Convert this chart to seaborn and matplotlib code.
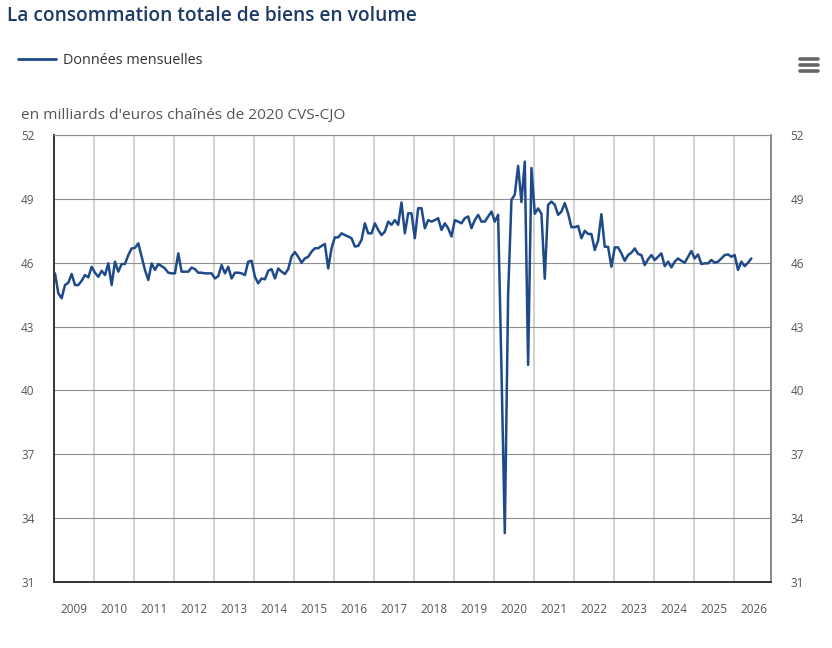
import matplotlib
matplotlib.use("Agg")
import matplotlib.pyplot as plt
import seaborn as sns
import pandas as pd
from matplotlib.lines import Line2D

# ---------------- data ----------------
title = "La consommation totale de biens en volume"
subtitle = "en milliards d'euros chaînés de 2020 CVS-CJO"
series_name = "Données mensuelles"
start_month = "2009-01"
year_labels = list(range(2009, 2027))
y_ticks = [31, 34, 37, 40, 43, 46, 49, 52]

v2009 = [45.5, 44.56, 44.33, 44.95, 45.06, 45.47, 44.95, 44.95, 45.15, 45.42, 45.31, 45.81]
v2010 = [45.53, 45.34, 45.62, 45.42, 45.97, 44.95, 46.05, 45.58, 45.94, 45.94, 46.36, 46.67]
v2011 = [46.7, 46.91, 46.28, 45.66, 45.19, 45.97, 45.66, 45.94, 45.84, 45.73, 45.53, 45.5]
v2012 = [45.5, 46.44, 45.58, 45.58, 45.58, 45.77, 45.7, 45.53, 45.53, 45.5, 45.5, 45.5]
v2013 = [45.26, 45.37, 45.89, 45.5, 45.81, 45.26, 45.53, 45.53, 45.5, 45.42, 46.05, 46.09]
v2014 = [45.34, 45.03, 45.26, 45.22, 45.62, 45.7, 45.26, 45.73, 45.58, 45.47, 45.7, 46.3]
v2015 = [46.5, 46.28, 46.0, 46.2, 46.28, 46.52, 46.68, 46.68, 46.79, 46.88, 45.73, 46.68]
v2016 = [47.19, 47.19, 47.38, 47.3, 47.23, 47.15, 46.76, 46.79, 47.07, 47.85, 47.38, 47.38]
v2017 = [47.85, 47.54, 47.3, 47.46, 47.93, 47.78, 48.0, 47.78, 48.83, 47.38, 48.32, 48.32]
v2018 = [47.15, 48.56, 48.56, 47.62, 48.0, 47.93, 48.0, 48.09, 47.54, 47.85, 47.62, 47.23]
v2019 = [48.0, 47.93, 47.85, 48.09, 48.17, 47.62, 48.0, 48.25, 47.93, 47.93, 48.17, 48.4]
v2020 = [47.93, 48.25, 41.0, 33.3, 44.5, 48.95, 49.2, 50.55, 48.85, 50.75, 41.2, 50.45]
v2021 = [48.3, 48.55, 48.3, 45.25, 48.72, 48.87, 48.72, 48.25, 48.4, 48.8, 48.32, 47.67]
v2022 = [47.67, 47.73, 47.15, 47.5, 47.35, 47.35, 46.6, 47.03, 48.28, 46.75, 46.75, 45.81]
v2023 = [46.72, 46.72, 46.44, 46.09, 46.36, 46.47, 46.67, 46.41, 46.36, 45.89, 46.16, 46.36]
v2024 = [46.13, 46.28, 46.44, 45.84, 46.05, 45.78, 46.05, 46.2, 46.09, 46.0, 46.28, 46.55]
v2025 = [46.2, 46.39, 45.94, 45.97, 45.97, 46.13, 46.0, 46.05, 46.2, 46.36, 46.39, 46.28]
v2026 = [46.36, 45.66, 46.05, 45.84, 46.0, 46.2]

values = (v2009 + v2010 + v2011 + v2012 + v2013 + v2014 + v2015 + v2016 + v2017
          + v2018 + v2019 + v2020 + v2021 + v2022 + v2023 + v2024 + v2025 + v2026)

# ---------------- style ----------------
sns.set_style("white")
plt.rcParams['font.family'] = ['Open Sans', 'DejaVu Sans']

line_color = "#1f4a8a"
text_gray = "#555555"

dates = pd.date_range(start_month, periods=len(values), freq="MS")
df = pd.DataFrame({"date": dates, "value": values})
df["x"] = df["date"].dt.year + (df["date"].dt.month - 1 + 0.3) / 12.0

W, H = 832, 648
fig = plt.figure(figsize=(W / 100, H / 100), dpi=100)
ax = fig.add_axes([54 / W, 1 - 582 / H, (771 - 54) / W, (582 - 135) / H])

sns.lineplot(data=df, x="x", y="value", ax=ax, color=line_color, linewidth=1.8,
             label=series_name, legend=False)

ax.set_xlim(2009, 2026 + 11.2 / 12)
ax.set_ylim(31, 52)

# vertical gridlines at year boundaries, labels centred in each year
ax.set_xticks(year_labels[1:])
ax.set_xticklabels([])
ax.set_xticks([y + 0.5 for y in year_labels], minor=True)
ax.set_xticklabels([str(y) for y in year_labels], minor=True)
ax.tick_params(axis="x", which="both", length=0)
ax.tick_params(axis="x", which="minor", pad=15, labelsize=8.5, labelcolor=text_gray)
ax.xaxis.grid(True, which="major", color="#d2d2d2", linewidth=1.4)

ax.set_yticks(y_ticks)
ax.set_yticklabels([str(t) for t in y_ticks])
ax.tick_params(axis="y", length=0, labelsize=8.5, labelcolor=text_gray,
               labelleft=True, labelright=True, pad=14)
ax.yaxis.grid(True, color="#8f8f8f", linewidth=0.8)
ax.set_axisbelow(True)

ax.set_xlabel("")
ax.set_ylabel("")

for side in ["left", "bottom"]:
    ax.spines[side].set_color("#333333")
    ax.spines[side].set_linewidth(1.4)
ax.spines["right"].set_color("#777777")
ax.spines["right"].set_linewidth(1.2)
ax.spines["top"].set_color("#8f8f8f")
ax.spines["top"].set_linewidth(0.8)

# ---------------- texts ----------------
fig.text(7 / W, 1 - 16 / H, title, ha="left", va="center", fontsize=13.8,
         fontweight="semibold", color="#1c3b66")
fig.text(21 / W, 1 - 116 / H, subtitle, ha="left", va="center", fontsize=11.1,
         color=text_gray)

handles, labels = ax.get_legend_handles_labels()
leg = fig.legend(handles, labels, loc="center left",
                 bbox_to_anchor=(18 / W, 1 - 61 / H), frameon=False,
                 borderpad=0, borderaxespad=0, handlelength=2.6,
                 handletextpad=0.5, fontsize=10.4)
for t in leg.get_texts():
    t.set_color("#333333")
for l in leg.get_lines():
    l.set_linewidth(2.0)

# menu icon
for yy in (59, 65, 71):
    fig.add_artist(Line2D([800 / W, 818 / W], [1 - yy / H, 1 - yy / H],
                          transform=fig.transFigure, color="#666666",
                          linewidth=2.6, solid_capstyle="round"))

fig.savefig("out.png", dpi=100)
